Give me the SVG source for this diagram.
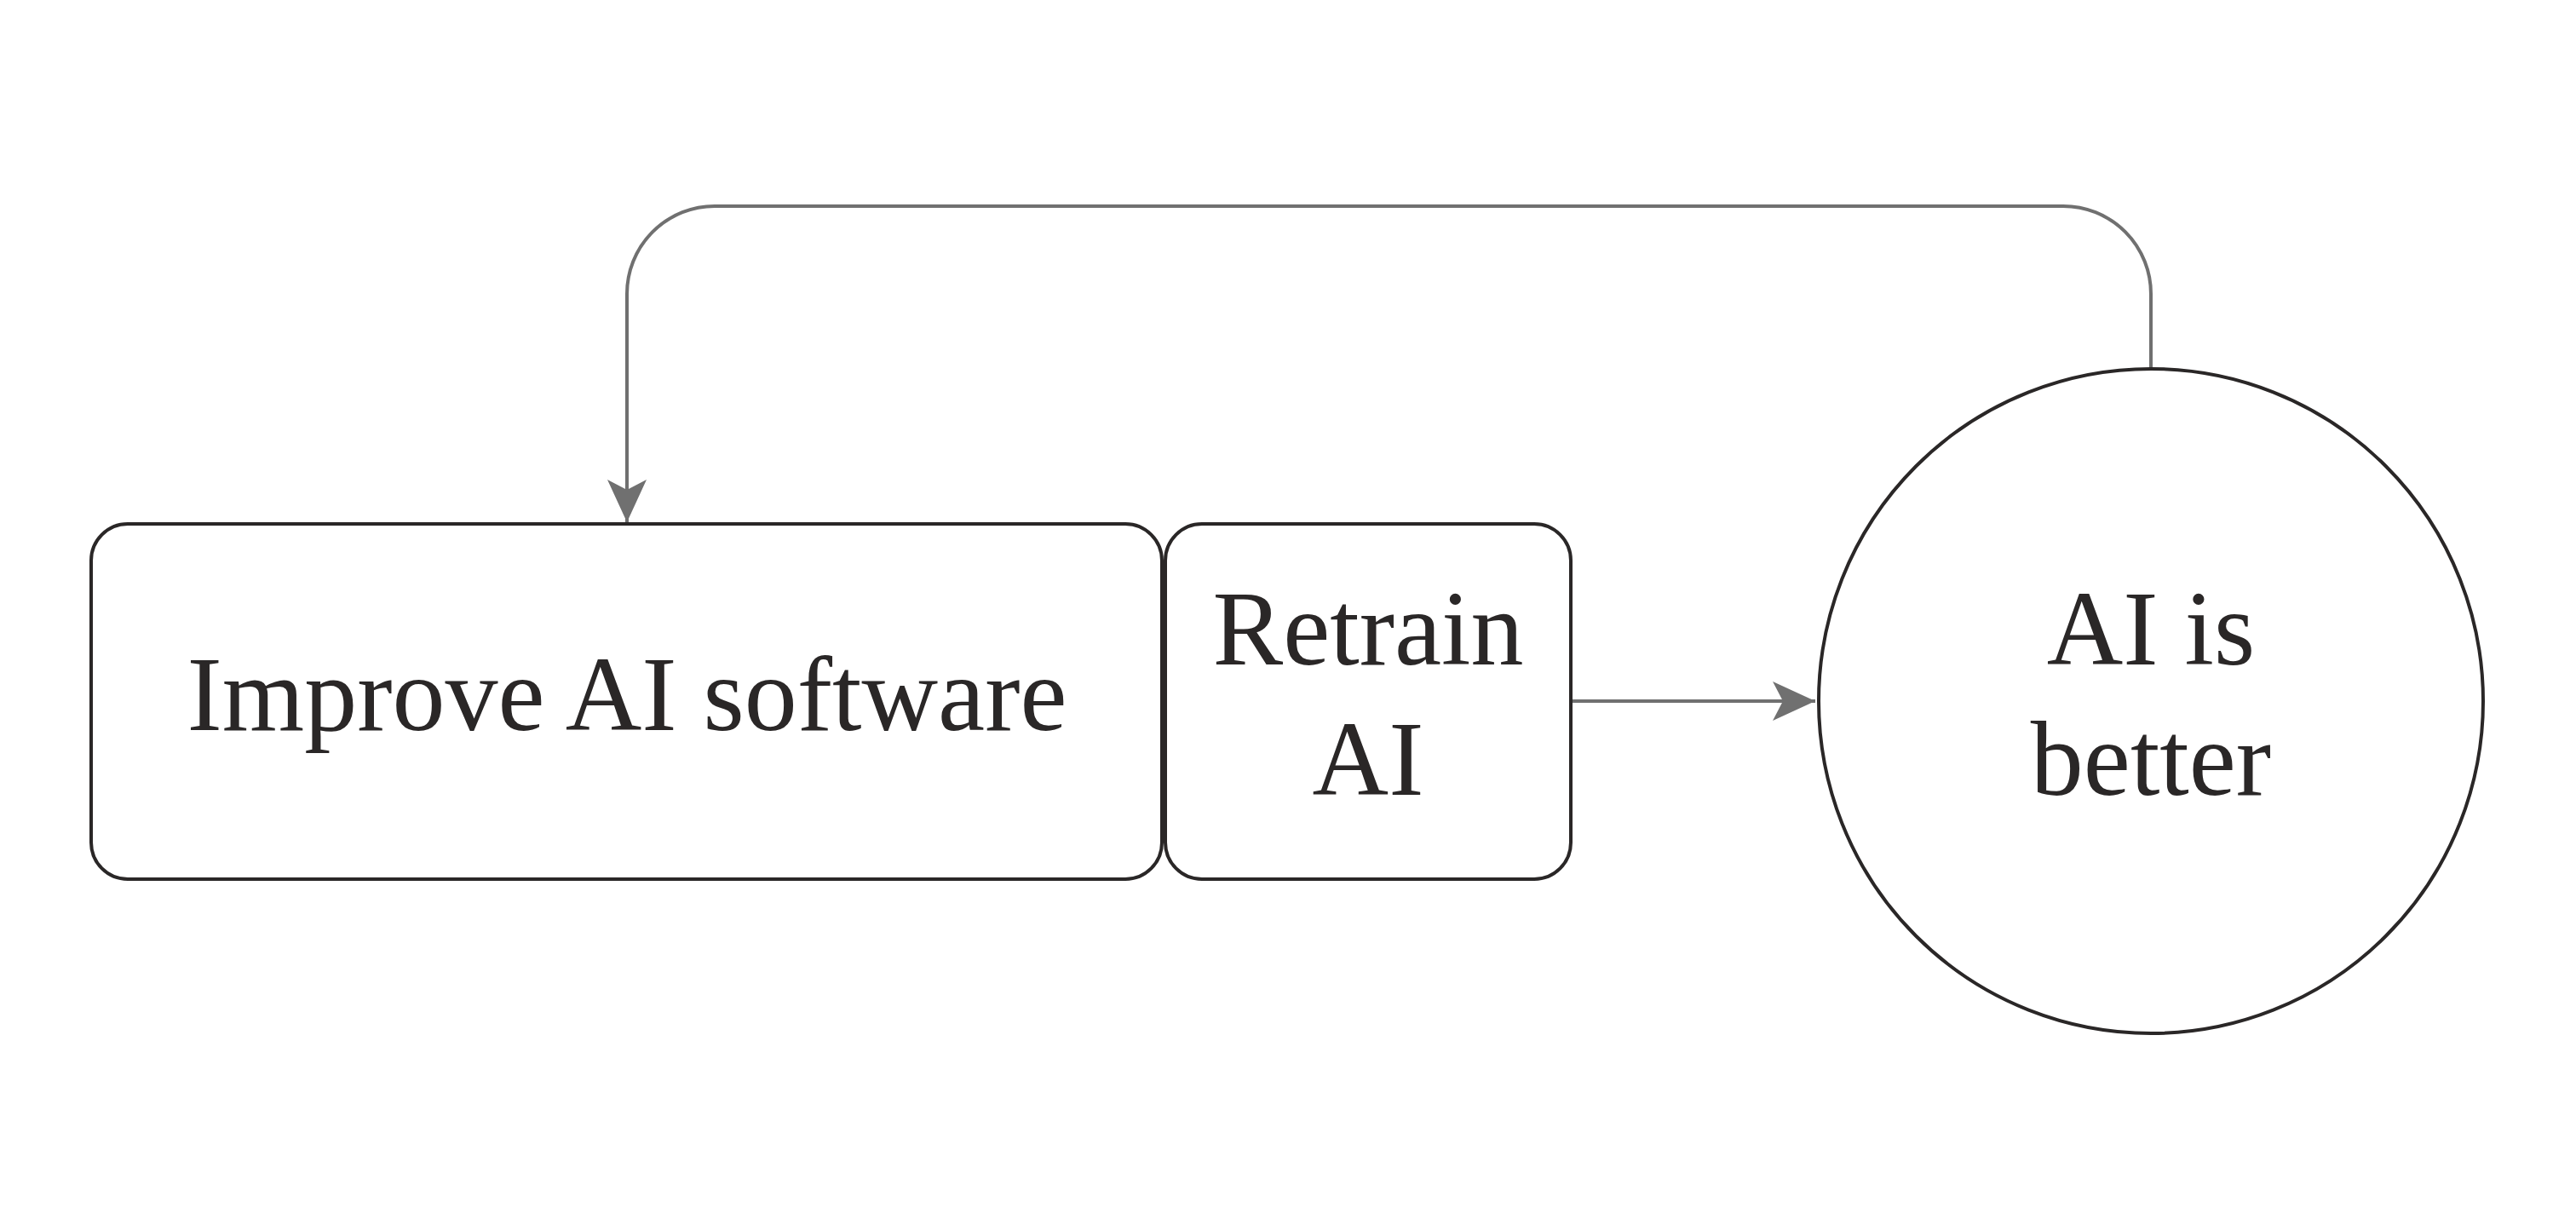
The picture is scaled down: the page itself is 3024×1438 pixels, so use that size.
<svg xmlns="http://www.w3.org/2000/svg" width="3024" height="1438" viewBox="0 0 3024 1438">
<style>
.n{fill:#fff;stroke:#2a2727;stroke-width:4}
.t{font-family:"Liberation Serif",serif;font-size:124px;fill:#2a2727;text-anchor:middle}
.c{fill:none;stroke:#707070;stroke-width:4}
</style>
<defs><marker id="a" markerWidth="12" markerHeight="10" refX="12" refY="5" orient="auto" markerUnits="userSpaceOnUse" viewBox="0 0 12 10"><path d="M0,0 L12,5 L0,10 L3,5 Z" fill="#707070"/></marker>
<marker id="b" viewBox="0 0 50 46" refX="50" refY="23" markerWidth="50" markerHeight="46" orient="auto" markerUnits="userSpaceOnUse"><path d="M0,0 L50,23 L0,46 L12,23 Z" fill="#707070"/></marker></defs>
<rect width="3024" height="1438" fill="#fff"/>
<g id="connectors">
<path class="c" d="M2525,433 V345 A103,103 0 0 0 2422,242 H839 A103,103 0 0 0 736,345 V613" marker-end="url(#b)"/>
<path class="c" d="M1844,823 H2131" marker-end="url(#b)"/>
</g>
<g id="improve"><rect class="n" x="107" y="615" width="1257" height="417" rx="43"/><text class="t" x="736" y="857">Improve AI software</text></g>
<g id="retrain"><rect class="n" x="1368" y="615" width="476" height="417" rx="43"/><text class="t" x="1606" y="780">Retrain</text><text class="t" x="1606" y="933">AI</text></g>
<g id="better"><circle class="n" cx="2525" cy="823" r="390"/><text class="t" x="2525" y="780">AI is</text><text class="t" x="2525" y="933">better</text></g>
</svg>
